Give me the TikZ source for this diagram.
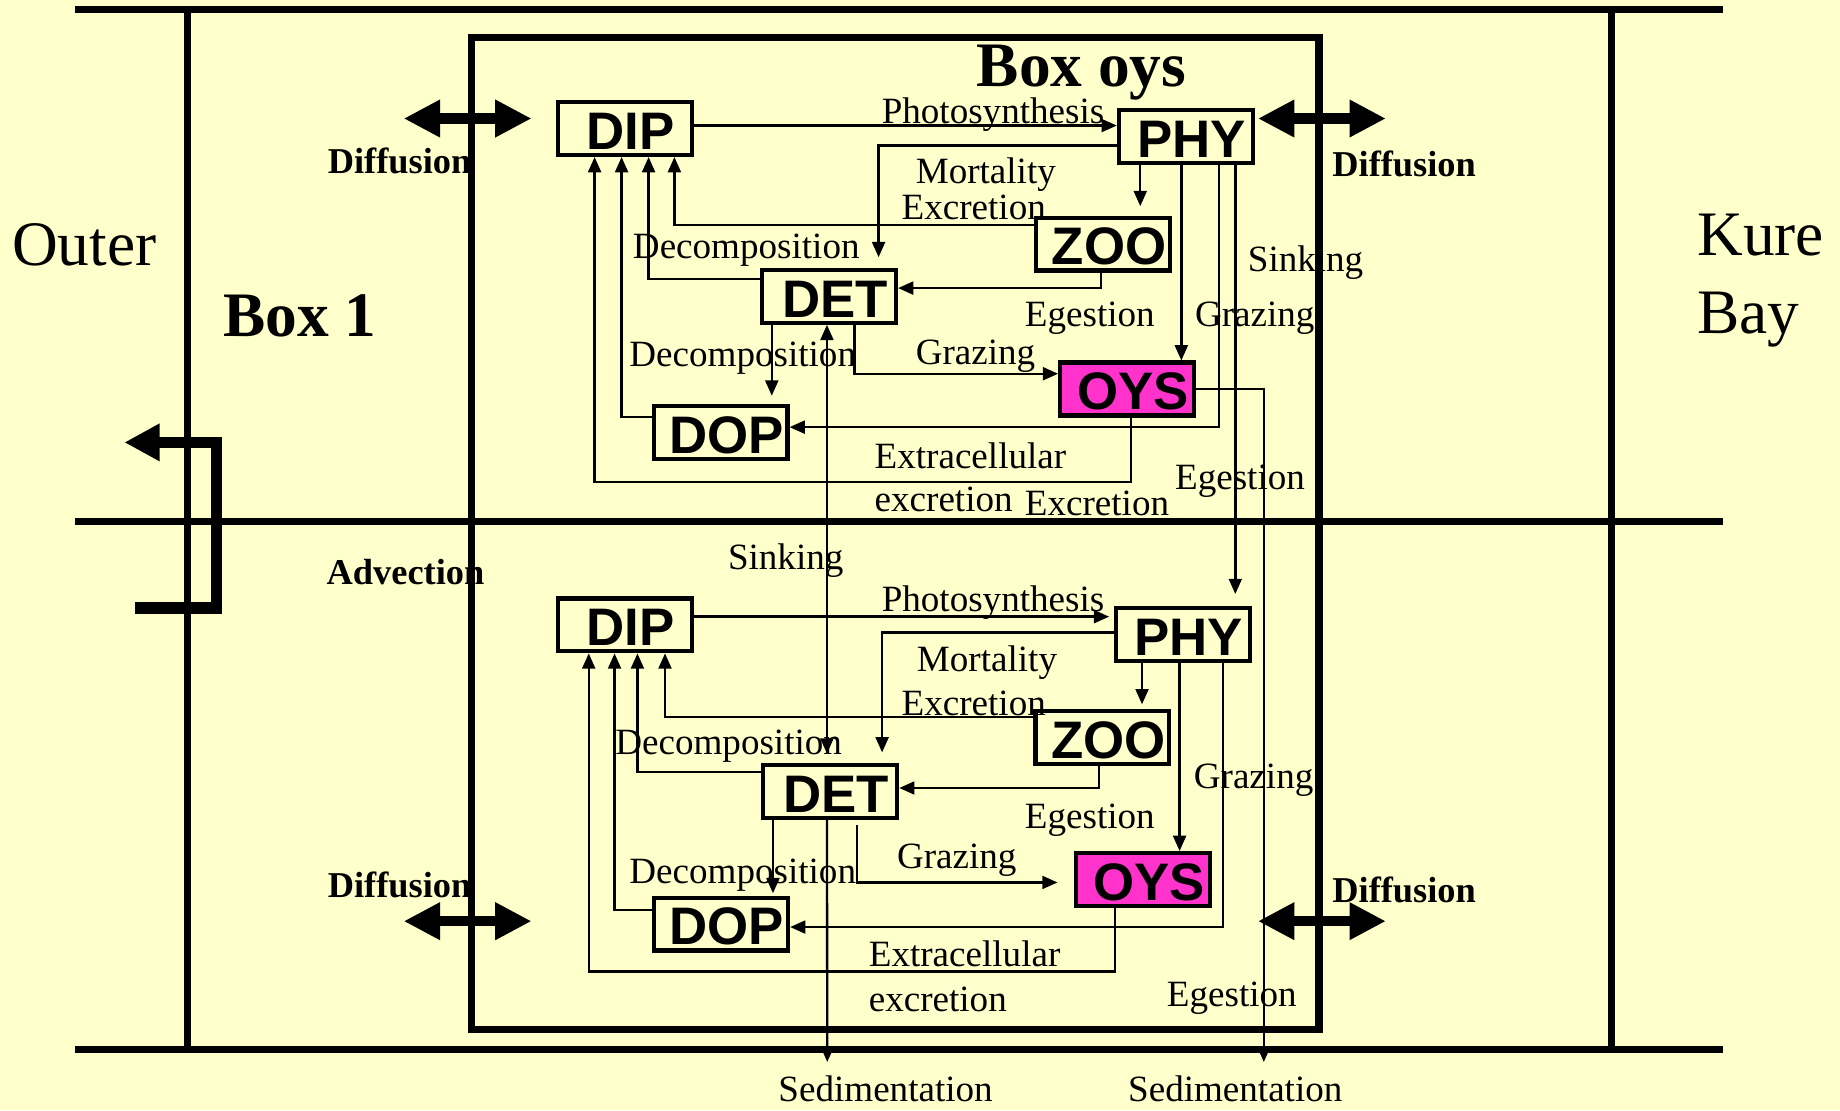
\documentclass[tikz,border=0pt]{standalone}
\usepackage{fontspec}
\setmainfont{Liberation Serif}
\newfontfamily\arialf{Liberation Sans}
\usetikzlibrary{arrows.meta,calc}
\definecolor{bgyellow}{HTML}{FFFFCC}
\definecolor{oysmag}{HTML}{FF33CC}
\newcommand{\boxtxt}[1]{\hspace*{5pt}\rule{0pt}{18pt}#1}
\begin{document}
\begin{tikzpicture}[x=0.5pt,y=-0.5pt,
  thickline/.style={line width=3pt},
  comp/.style={draw, line width=1.8pt, minimum width=57pt, minimum height=22.5pt, inner sep=0pt,
    font=\arialf\bfseries\fontsize{22.5}{22.5}\selectfont},
  oysbox/.style={comp, fill=oysmag},
  conn/.style={line width=1pt, -{Triangle[length=6.5pt,width=5.5pt]}},
  biconn/.style={line width=1pt, {Triangle[length=6.5pt,width=5.5pt]}-{Triangle[length=6.5pt,width=5.5pt]}},
  lbl/.style={anchor=base west, inner sep=0pt, font=\fontsize{15.8}{16}\selectfont},
  sedlbl/.style={anchor=base west, inner sep=0pt, font=\fontsize{15.8}{16}\selectfont},
  blbl/.style={anchor=base west, inner sep=0pt, font=\bfseries\fontsize{15.5}{16}\selectfont},
  biglbl/.style={anchor=base west, inner sep=0pt, font=\fontsize{27}{28}\selectfont},
  bigbold/.style={anchor=base west, inner sep=0pt, font=\bfseries\fontsize{27}{28}\selectfont},
  diffarrow/.style={line width=4.5pt, {Triangle[length=15.5pt,width=15pt]}-{Triangle[length=15.5pt,width=15pt]}},
  advarrow/.style={line width=5pt, line join=miter, -{Triangle[length=15pt,width=15pt]}},
]
\fill[bgyellow] (0,0) rectangle (1568,946);
\useasboundingbox (0,0) rectangle (1568,946);

% frame lines
\draw[thickline] (64,8) -- (1468,8);
\draw[thickline] (64,444) -- (1468,444);
\draw[thickline] (64,894) -- (1468,894);
\draw[thickline] (160,8) -- (160,894);
\draw[thickline] (1373,8) -- (1373,894);
\draw[line width=3pt] (402,32) rectangle (1124,877);

% big labels
\node[biglbl] (outer) at (10,226) {Outer};
\node[biglbl] (kure) at (1446,218) {Kure};
\node[biglbl] (bay) at (1446,284) {Bay};
\node[bigbold] (box1) at (190,287) {Box 1};
\node[bigbold] (boxoys) at (832,74) {Box oys};
\node[blbl] (dif1) at (279,148) {Diffusion};
\node[blbl] (dif2) at (1135,150) {Diffusion};
\node[blbl] (adv) at (278,498) {Advection};
\node[blbl] (dif3) at (279,765) {Diffusion};
\node[blbl] (dif4) at (1135,769) {Diffusion};

% diffusion arrows
\coordinate (dA1) at (344,101); \coordinate (dB1) at (453,101);
\coordinate (dA2) at (1072,101); \coordinate (dB2) at (1181,101);
\coordinate (dA3) at (344,785); \coordinate (dB3) at (453,785);
\coordinate (dA4) at (1072,785); \coordinate (dB4) at (1181,785);
\draw[diffarrow] (dA1) -- (dB1);
\draw[diffarrow] (dA2) -- (dB2);
\draw[diffarrow] (dA3) -- (dB3);
\draw[diffarrow] (dA4) -- (dB4);

% advection arrow
\coordinate (advS) at (115,518);
\coordinate (advE) at (106,377);
\draw[advarrow] (advS) -- (184.5,518) -- (184.5,377) -- (advE);

% compartments upper
\node[comp] (DIP1) at (532.5,109.5) {\boxtxt{DIP}};
\node[comp] (PHY1) at (1010.5,116.5) {\boxtxt{PHY}};
\node[comp] (ZOO1) at (940,208) {\boxtxt{ZOO}};
\node[comp] (DET1) at (706.5,252.5) {\boxtxt{DET}};
\node[oysbox] (OYS1) at (960.5,331.5) {\boxtxt{OYS}};
\node[comp] (DOP1) at (614,368.5) {\boxtxt{DOP}};
% compartments lower
\node[comp] (DIP2) at (532.5,532.5) {\boxtxt{DIP}};
\node[comp] (PHY2) at (1008,540.5) {\boxtxt{PHY}};
\node[comp] (ZOO2) at (939.5,628.5) {\boxtxt{ZOO}};
\node[comp] (DET2) at (707.5,674.5) {\boxtxt{DET}};
\node[oysbox] (OYS2) at (974,749.5) {\boxtxt{OYS}};
\node[comp] (DOP2) at (614.5,787.5) {\boxtxt{DOP}};

% ---------- upper connectors
\coordinate (a1) at ($(DIP1.east)+(0,-2.5)$);
\draw[conn] (a1) -- (a1 -| PHY1.west);
\coordinate (a2) at ($(PHY1.west)+(0,7.5)$);
\coordinate (a2e) at ($(DET1.north west)+(101,0)$);
\draw[conn, shorten >=4.5pt] (a2) -| (a2e);
\coordinate (a3) at ($(PHY1.south west)+(20,0)$);
\draw[conn, shorten >=4pt] (a3) -- (a3 |- ZOO1.north);
\coordinate (a4) at ($(ZOO1.west)+(0,-16)$);
\coordinate (a4e) at ($(DIP1.south west)+(101,0)$);
\draw[conn] (a4) -| (a4e);
\coordinate (a5) at ($(ZOO1.south west)+(57,0)$);
\coordinate (a5e) at ($(DET1.east)+(0,-7)$);
\draw[conn] (a5) |- (a5e);
\coordinate (a6) at ($(DET1.west)+(0,-15)$);
\coordinate (a6e) at ($(DIP1.south west)+(79,0)$);
\draw[conn] (a6) -| (a6e);
\coordinate (a7) at ($(DET1.south west)+(10,0)$);
\draw[conn, shorten >=3.5pt] (a7) -- (a7 |- DOP1.north);
\coordinate (a8) at ($(DOP1.west)+(0,-13)$);
\coordinate (a8e) at ($(DIP1.south west)+(56,0)$);
\draw[conn] (a8) -| (a8e);
\coordinate (a9) at ($(DET1.south east)+(-37,0)$);
\coordinate (a9e) at ($(OYS1.west)+(0,-13)$);
\draw[conn] (a9) |- (a9e);
\coordinate (a10) at ($(PHY1.south west)+(55,0)$);
\draw[conn] (a10) -- (a10 |- OYS1.north);
\coordinate (a11) at ($(PHY1.south west)+(87,0)$);
\coordinate (a11e) at ($(DOP1.east)+(0,-4.5)$);
\draw[conn] (a11) |- (a11e);
\coordinate (a12) at ($(OYS1.south west)+(62,0)$);
\coordinate (a12m) at ($(OYS1.south)+(0,55)$);
\coordinate (a12e) at ($(DIP1.south west)+(33,0)$);
\draw[conn] (a12) -- (a12 |- a12m) -| (a12e);
\coordinate (a13) at ($(PHY1.south west)+(101,0)$);
\draw[conn, shorten >=5pt] (a13) -- (a13 |- PHY2.north);
\coordinate (sedR) at (1077,905);
\draw[conn] (OYS1.east) -| (sedR);
\coordinate (a15) at ($(DET1.south west)+(57,0)$);
\draw[biconn, shorten >=4pt] (a15) -- (a15 |- DET2.north);
\coordinate (sedL) at (705,905);
\draw[conn] (DET2.south -| a15) -- (sedL);

% ---------- lower connectors
\coordinate (b1) at ($(DIP2.east)+(0,-7)$);
\draw[conn, shorten >=2pt] (b1) -- (b1 -| PHY2.west);
\coordinate (b2) at ($(PHY2.west)+(0,-1.5)$);
\coordinate (b2e) at ($(DET2.north west)+(103,0)$);
\draw[conn, shorten >=4.5pt] (b2) -| (b2e);
\coordinate (b3) at ($(PHY2.south west)+(24,0)$);
\draw[conn, shorten >=2pt] (b3) -- (b3 |- ZOO2.north);
\coordinate (b4) at ($(ZOO2.west)+(0,-17.5)$);
\coordinate (b4e) at ($(DIP2.south west)+(93,0)$);
\draw[conn] (b4) -| (b4e);
\coordinate (b5) at ($(ZOO2.south west)+(56,0)$);
\coordinate (b5e) at ($(DET2.east)+(0,-3)$);
\draw[conn] (b5) |- (b5e);
\coordinate (b6) at ($(DET2.west)+(0,-16.5)$);
\coordinate (b6e) at ($(DIP2.south west)+(69.5,0)$);
\draw[conn] (b6) -| (b6e);
\coordinate (b7) at ($(DET2.south west)+(10,0)$);
\draw[conn, shorten >=1pt] (b7) -- (b7 |- DOP2.north);
\coordinate (b8) at ($(DOP2.west)+(0,-12)$);
\coordinate (b8e) at ($(DIP2.south west)+(50,0)$);
\draw[conn] (b8) -| (b8e);
\coordinate (b9) at ($(DET2.south east)+(-36,4)$);
\coordinate (b9e) at ($(OYS2.west)+(0,2.5)$);
\draw[conn, shorten >=7pt] (b9) |- (b9e);
\coordinate (b10) at ($(PHY2.south west)+(56,0)$);
\draw[conn] (b10) -- (b10 |- OYS2.north);
\coordinate (b11) at ($(PHY2.south west)+(93,0)$);
\coordinate (b11e) at ($(DOP2.east)+(0,2.5)$);
\draw[conn] (b11) |- (b11e);
\coordinate (b12) at ($(OYS2.south west)+(35,0)$);
\coordinate (b12m) at ($(OYS2.south)+(0,54)$);
\coordinate (b12e) at ($(DIP2.south west)+(28,0)$);
\draw[conn] (b12) -- (b12 |- b12m) -| (b12e);

% ---------- connector labels upper
\node[lbl] (l1) at (751,105) {Photosynthesis};
\node[lbl] (l2) at (780,156) {Mortality};
\node[lbl] (l3) at (768,187) {Excretion};
\node[lbl] (l4) at (539,220) {Decomposition};
\node[lbl] (l5) at (1063,231) {Sinking};
\node[lbl] (l6) at (873,278) {Egestion};
\node[lbl] (l7) at (1018,278) {Grazing};
\node[lbl] (l8) at (536,312) {Decomposition};
\node[lbl] (l9) at (780,311) {Grazing};
\node[lbl] (l10) at (745,399) {Extracellular};
\node[lbl] (l11) at (745,436) {excretion};
\node[lbl] (l12) at (873,439) {Excretion};
\node[lbl] (l13) at (1001,417) {Egestion};
\node[lbl] (l14) at (620,485) {Sinking};
% lower
\node[lbl] (m1) at (751,521) {Photosynthesis};
\node[lbl] (m2) at (781,572) {Mortality};
\node[lbl] (m3) at (768,610) {Excretion};
\node[lbl] (m4) at (524,643) {Decomposition};
\node[lbl] (m5) at (1017,672) {Grazing};
\node[lbl] (m6) at (873,706) {Egestion};
\node[lbl] (m7) at (764,740) {Grazing};
\node[lbl] (m8) at (536,753) {Decomposition};
\node[lbl] (m9) at (740,824) {Extracellular};
\node[lbl] (m10) at (740,862) {excretion};
\node[lbl] (m11) at (994,858) {Egestion};
\node[sedlbl] (s1) at (663,939) {Sedimentation};
\node[sedlbl] (s2) at (961,939) {Sedimentation};
\end{tikzpicture}
\end{document}
